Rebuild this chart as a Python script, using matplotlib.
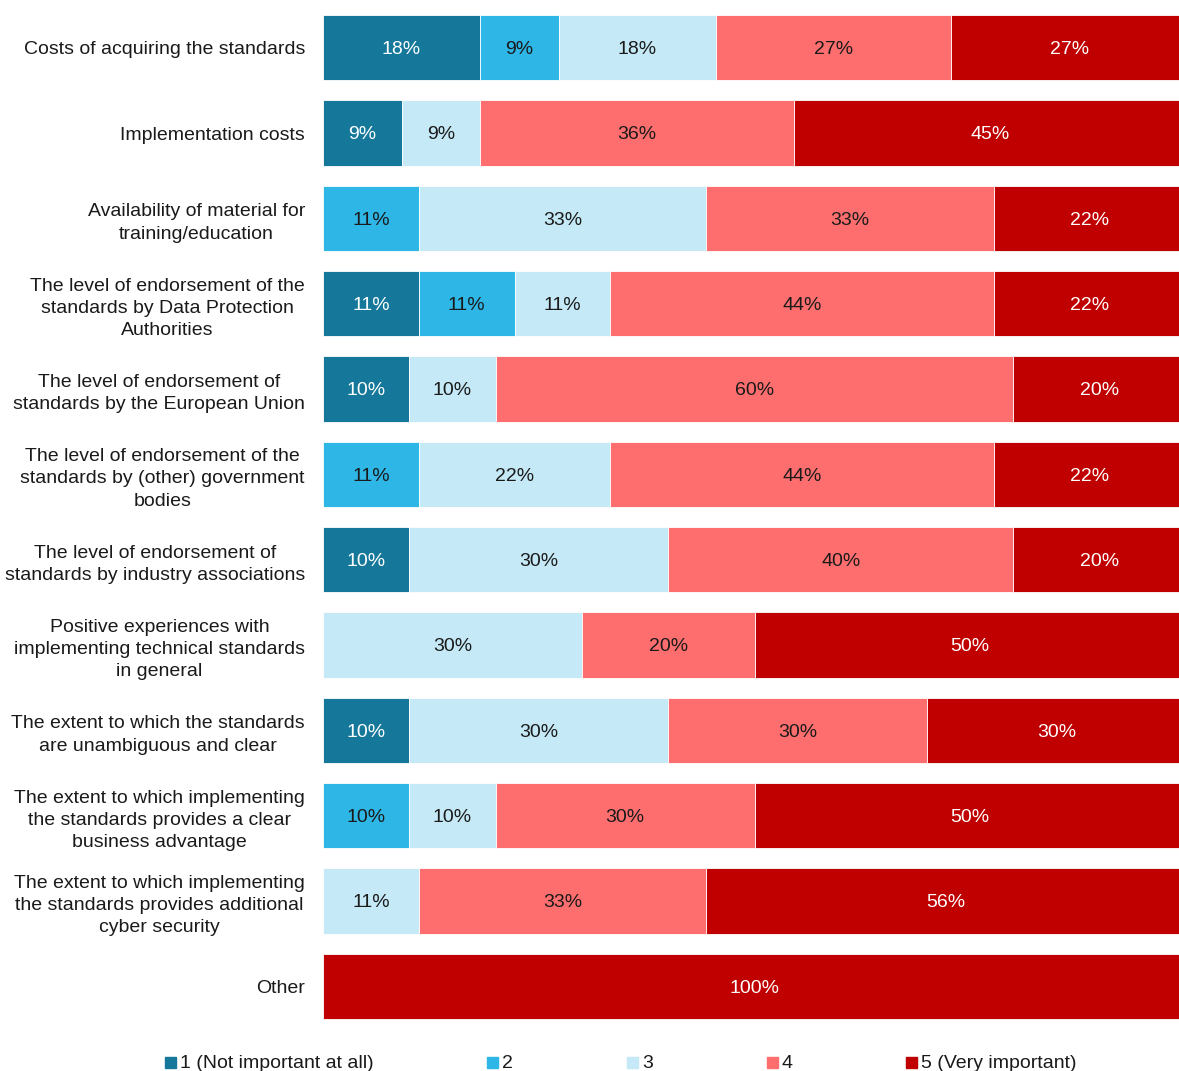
import numpy as np
import matplotlib
matplotlib.use("Agg")
import matplotlib.pyplot as plt
from matplotlib.patches import Rectangle

plt.rcParams["font.family"] = ["Liberation Sans", "DejaVu Sans"]

categories = [
    "Costs of acquiring the standards",
    "Implementation costs",
    "Availability of material for\ntraining/education",
    "The level of endorsement of the\nstandards by Data Protection\nAuthorities",
    "The level of endorsement of\nstandards by the European Union",
    "The level of endorsement of the\nstandards by (other) government\nbodies",
    "The level of endorsement of\nstandards by industry associations",
    "Positive experiences with\nimplementing technical standards\nin general",
    "The extent to which the standards\nare unambiguous and clear",
    "The extent to which implementing\nthe standards provides a clear\nbusiness advantage",
    "The extent to which implementing\nthe standards provides additional\ncyber security",
    "Other",
]

series_names = ["1 (Not important at all)", "2", "3", "4", "5 (Very important)"]
colors = ["#15789B", "#2EB6E6", "#C5E9F6", "#FF6E6E", "#C00000"]
text_colors = ["white", "#1a1a1a", "#1a1a1a", "#1a1a1a", "white"]

# percentage per importance level (1..5) for each category
s1 = [18.2, 9.1, 0, 11.1, 10, 0, 10, 0, 10, 0, 0, 0]
s2 = [9.1, 0, 11.1, 11.1, 0, 11.1, 0, 0, 0, 10, 0, 0]
s3 = [18.2, 9.1, 33.3, 11.1, 10, 22.2, 30, 30, 30, 10, 11.1, 0]
s4 = [27.3, 36.4, 33.3, 44.4, 60, 44.4, 40, 20, 30, 30, 33.3, 0]
s5 = [27.3, 45.4, 22.2, 22.2, 20, 22.2, 20, 50, 30, 50, 55.6, 100]
series = [s1, s2, s3, s4, s5]

W, H = 1179, 1071
fig = plt.figure(figsize=(W / 100, H / 100), dpi=100)
# plot area runs a little past the right edge of the image
ax = fig.add_axes([323 / W, 1 - 1029 / H, (1186 - 323) / W, (1029 - 5) / H])

y = np.arange(len(categories))
left = np.zeros(len(categories))
for vals, col, tcol in zip(series, colors, text_colors):
    vals = np.array(vals, dtype=float)
    ax.barh(y, vals, left=left, height=0.765, color=col,
            edgecolor="white", linewidth=0.6)
    for yi, (l, v) in enumerate(zip(left, vals)):
        if v > 0:
            ax.text(l + v / 2, yi + 0.02, f"{v:.0f}%", ha="center", va="center",
                    fontsize=14, color=tcol)
    left += vals

ax.set_xlim(0, 100)
ax.set_ylim(len(categories) - 0.5, -0.5)
ax.set_xticks([])
ax.set_yticks(y, categories, fontsize=14, color="#1a1a1a")
for t in ax.get_yticklabels():
    t.set_multialignment("center")
    t.set_linespacing(1.4)
ax.tick_params(axis="y", length=0, pad=13)
for sp in ax.spines.values():
    sp.set_visible(False)

# legend along the bottom edge
leg_x = [165, 487, 627, 767, 906]
for xp, name, col in zip(leg_x, series_names, colors):
    fig.patches.append(Rectangle((xp / W, 1 - 1068 / H), 11 / W, 11 / H,
                                 transform=fig.transFigure, color=col))
    fig.text((xp + 15) / W, 1 - 1063 / H, name, fontsize=14,
             va="center", ha="left", color="#1a1a1a")

fig.savefig("out.png", dpi=100)
